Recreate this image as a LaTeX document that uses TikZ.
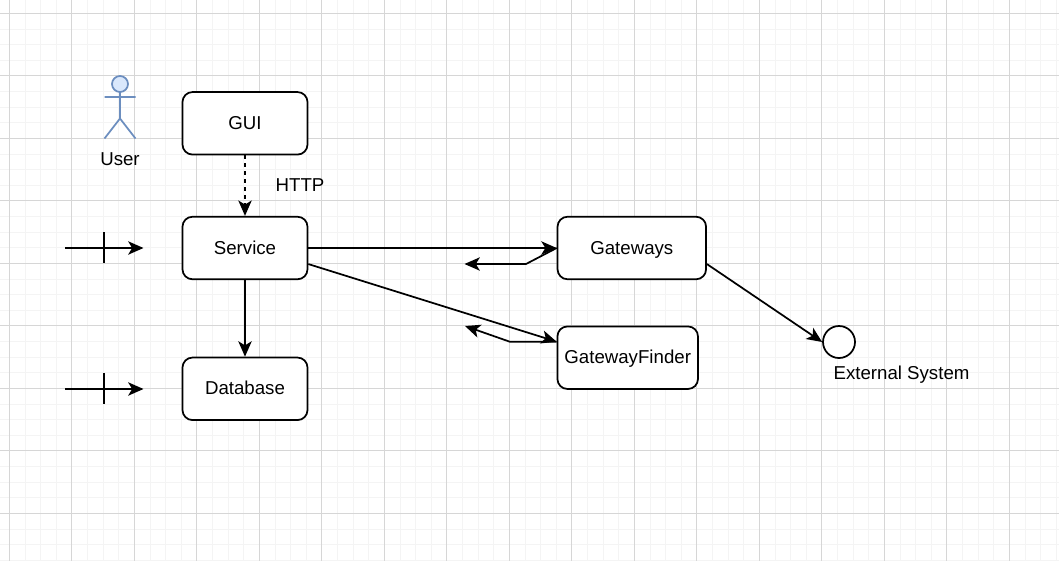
\documentclass[tikz,border=0pt]{standalone}
\usepackage{fontspec}
\setmainfont{Liberation Sans}
\usepackage{xcolor}
\usepackage{tikz}
\usetikzlibrary{arrows.meta,calc}
\definecolor{gridminor}{HTML}{F4F4F4}
\definecolor{gridmajor}{HTML}{D6D6D6}
\definecolor{actorline}{HTML}{6C8EBF}
\definecolor{actorfill}{HTML}{DAE8FC}
\tikzset{
  box/.style={draw=black, fill=white, rounded corners=7.5pt, line width=1.3pt, inner sep=0pt,
    minimum height=46.9pt, text height=12pt, text depth=3pt, font=\fontsize{14}{16}\selectfont},
  caption/.style={inner sep=0pt, text height=12pt, text depth=3pt, font=\fontsize{14}{16}\selectfont},
  link/.style={line width=1.3pt, -{Stealth[length=11.5pt,width=10pt,inset=3pt]}},
  tick/.style={line width=1.3pt},
}
\begin{document}
\begin{tikzpicture}[x=0.75pt, y=-0.75pt]
        \useasboundingbox (0,0) rectangle (1059,561);
        \fill[white] (0,0) rectangle (1059,561);
        % grid
        \foreach \i in {0,...,68}
        \draw[gridminor, line width=0.75pt] (9.4+15.625*\i,0) -- (9.4+15.625*\i,561);
        \foreach \i in {0,...,36}
        \draw[gridminor, line width=0.75pt] (0,13.4+15.625*\i) -- (1059,13.4+15.625*\i);
        \foreach \i in {0,...,17}
        \draw[gridmajor, line width=0.75pt] (9.4+62.5*\i,0) -- (9.4+62.5*\i,561);
        \foreach \i in {0,...,8}
        \draw[gridmajor, line width=0.75pt] (0,13.4+62.5*\i) -- (1059,13.4+62.5*\i);
        % user
        \draw[actorline, fill=actorfill, line width=1.3pt] (120,84) circle (6pt);
        \draw[actorline, line width=1.3pt] (120,92) -- (120,118.5) (104.5,97) -- (135.5,97)
        (104.5,138.5) -- (120,118.5) -- (135.5,138.5);
        \node[caption] (user) at (120,159.5) {User};
        % boxes
        \node[box, minimum width=93.75pt] (gui) at (245,123.3) {GUI};
        \node[box, minimum width=93.75pt] (service) at (245,248) {Service};
        \node[box, minimum width=93.75pt] (database) at (245,388.8) {Database};
        \node[box, minimum width=111.4pt] (gateways) at (631.8,248) {Gateways};
        \node[box, minimum width=105.4pt] (finder) at (627.7,357.7) {GatewayFinder};
        \node[draw=black, fill=white, circle, line width=1.3pt, minimum size=24pt, inner sep=0pt] (external) at (839,342) {};
        \node[caption] (externallabel) at (901.5,373.3) {External System};
        \node[caption] (http) at (300,185.7) {HTTP};
        % free ends
        \coordinate (in1) at (65,248);
        \coordinate (in1end) at (143.5,248);
        \coordinate (tick1a) at (104,232);
        \coordinate (tick1b) at (104,263);
        \coordinate (in2) at (65,389);
        \coordinate (in2end) at (143.5,389);
        \coordinate (tick2a) at (104,373);
        \coordinate (tick2b) at (104,404);
        \coordinate (gwback) at (464.5,264);
        \coordinate (gwbend) at (526,264);
        \coordinate (serviceport) at ($(service.north east)!0.75!(service.south east)$);
        \coordinate (gwport) at ($(gateways.north east)!0.75!(gateways.south east)$);
        \coordinate (fdport) at ($(finder.north west)!0.25!(finder.south west)$);
        \coordinate (fdbend) at ($(fdport)+(-47,0)$);
        \coordinate (fdback) at (465,326);
        % connectors
        \draw[link, dashed] (gui) -- (service);
        \draw[link] (service) -- (database);
        \draw[link] (in1) -- (in1end);
        \draw[tick] (tick1a) -- (tick1b);
        \draw[link] (in2) -- (in2end);
        \draw[tick] (tick2a) -- (tick2b);
        \draw[link] (service.east) -- (gateways.west);
        \draw[link] (gateways.west) -- (gwbend) -- (gwback);
        \draw[link] (serviceport) -- (fdport);
        \draw[link] (fdport) -- (fdbend) -- (fdback);
        \draw[link] (gwport) -- (external.west);
\end{tikzpicture}
\end{document}
